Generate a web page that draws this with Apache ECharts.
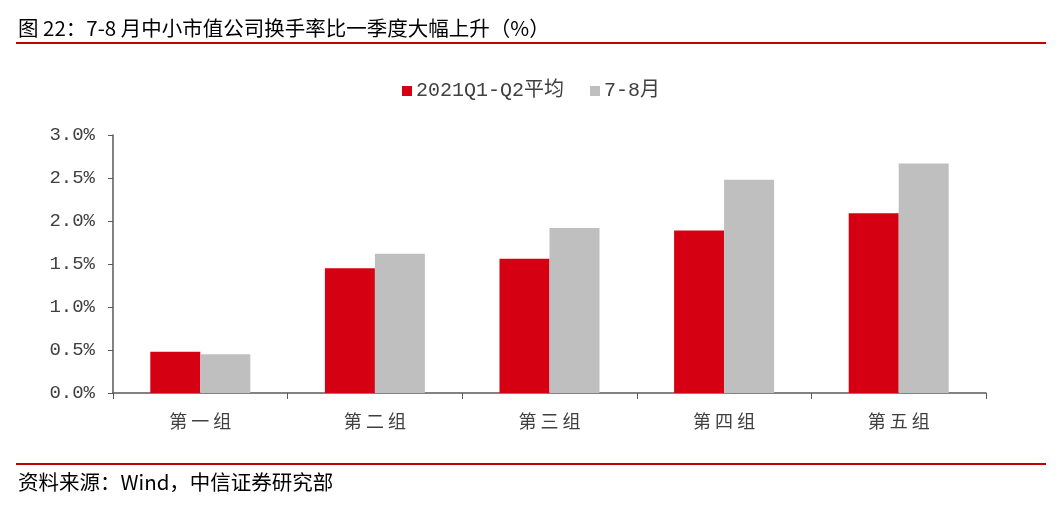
<!DOCTYPE html>
<html>
<head>
<meta charset="utf-8">
<script src="https://cdn.jsdelivr.net/npm/echarts@6/dist/echarts.min.js"></script>
<style>
html,body{margin:0;padding:0;background:#fff;}
#chart{width:1062px;height:519px;}
</style>
</head>
<body>
<div id="chart"></div>
<script>
const categories = ['第一组', '第二组', '第三组', '第四组', '第五组'];
const seriesNames = ['2021Q1-Q2平均', '7-8月'];
const avgQ1Q2 = [0.48, 1.45, 1.56, 1.89, 2.09];
const julAug = [0.45, 1.62, 1.92, 2.48, 2.67];
const yTicks = [0, 0.5, 1.0, 1.5, 2.0, 2.5, 3.0];

const chart = echarts.init(document.getElementById('chart'));
const axisColor = '#595959';
chart.setOption({
  animation: false,
  backgroundColor: '#fff',
  graphic: [
    { type: 'text', left: 18, top: 18, style: { text: '图 22：7-8 月中小市值公司换手率比一季度大幅上升（%）', font: '20.5px "Noto Sans CJK SC", sans-serif', fill: '#000' } },
    { type: 'rect', shape: { x: 16, y: 42, width: 1030, height: 2 }, style: { fill: '#c00000' } },
    { type: 'rect', shape: { x: 16, y: 463, width: 1030, height: 2 }, style: { fill: '#c00000' } },
    { type: 'text', left: 18, top: 472, style: { text: '资料来源：Wind，中信证券研究部', font: '20.5px "Noto Sans CJK SC", sans-serif', fill: '#000' } }
  ],
  legend: {
    data: seriesNames,
    top: 76,
    left: 'center',
    itemWidth: 10,
    itemHeight: 10,
    itemGap: 26,
    icon: 'rect',
    textStyle: { color: '#404040', fontSize: 20, fontFamily: '"Liberation Mono", "Noto Sans CJK SC", monospace', padding: [0,0,0,-1] }
  },
  grid: { left: 113, right: 76, top: 135, bottom: 126 },
  xAxis: {
    type: 'category',
    data: categories,
    axisLine: { lineStyle: { color: axisColor, width: 1.5 } },
    axisTick: { show: true, length: 6, inside: false, alignWithLabel: false, lineStyle: { color: axisColor } },
    axisLabel: { color: '#404040', fontSize: 18, margin: 19, fontFamily: '"Noto Sans CJK SC", sans-serif',
      formatter: v => v.split('').join(' ') }
  },
  yAxis: {
    type: 'value',
    min: 0, max: 3, interval: 0.5,
    splitLine: { show: false },
    axisLine: { show: true, lineStyle: { color: axisColor, width: 1.5 } },
    axisTick: { show: true, length: 5, lineStyle: { color: axisColor } },
    axisLabel: { color: '#404040', fontSize: 19, margin: 18, fontFamily: '"Liberation Mono", "DejaVu Sans Mono", monospace',
      formatter: v => yTicks.includes(+v.toFixed(1)) ? v.toFixed(1) + '%' : '' }
  },
  series: [
    { name: seriesNames[0], type: 'bar', data: avgQ1Q2, barWidth: 50, barGap: '0%', itemStyle: { color: '#d50011' } },
    { name: seriesNames[1], type: 'bar', data: julAug, barWidth: 50, itemStyle: { color: '#bfbfbf' } }
  ]
});
</script>
</body>
</html>
